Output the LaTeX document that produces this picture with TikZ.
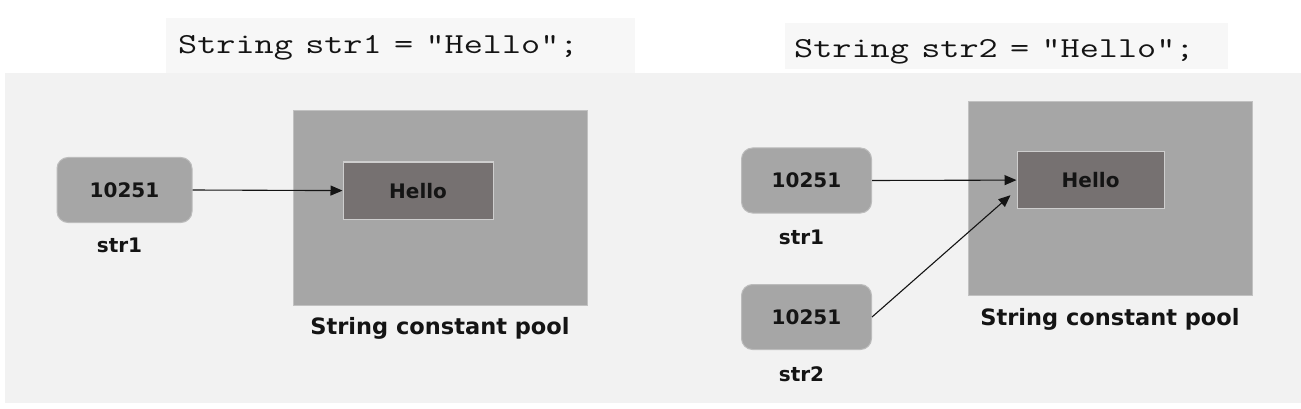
\documentclass[tikz,border=0pt]{standalone}
\usepackage{fontspec}
\setmainfont{DejaVu Sans}
\usepackage{graphicx}
\usepackage{tikz}
\usetikzlibrary{calc,arrows.meta,positioning}
\definecolor{bggray}{HTML}{F2F2F2}
\definecolor{codegray}{HTML}{F7F7F7}
\definecolor{boxgray}{HTML}{A6A6A6}
\definecolor{hellogray}{HTML}{767171}
\definecolor{inkgray}{HTML}{141414}
\newcommand{\codeline}[1]{\scalebox{1.28}[1]{#1}}
\tikzset{
  code/.style={fill=codegray, inner ysep=0pt, align=left, anchor=base west,
  font=\ttfamily\fontsize{29}{32}\selectfont, text=inkgray},
  refbox/.style={draw=boxgray!75!white, line width=1pt, fill=boxgray, 
  rounded corners=11pt, minimum width=130pt, minimum height=65pt, inner sep=0pt,
  font=\bfseries\fontsize{20}{24}\selectfont, text=inkgray},
  pool/.style={draw=boxgray!70!white, line width=1pt, fill=boxgray, 
  minimum height=194pt, inner sep=0pt},
  hellobox/.style={draw=boxgray!55!white, line width=1.2pt, fill=hellogray,
  minimum width=150pt, minimum height=57pt, inner sep=0pt, anchor=north west,
  font=\bfseries\fontsize{20}{24}\selectfont, text=inkgray},
  varname/.style={inner sep=0pt, xshift=-5pt, 
  font=\bfseries\fontsize{20}{24}\selectfont, text=inkgray},
  poolname/.style={inner sep=0pt, font=\bfseries\fontsize{22.5}{26}\selectfont,
  text=inkgray},
  ptr/.style={-{Triangle[length=12pt,width=10pt]}, line width=1.1pt, draw=inkgray}
}
\begin{document}
\begin{tikzpicture}[x=1pt,y=-1pt]
\useasboundingbox[fill=white] (0,0) rectangle (1301,409);
\fill[bggray] (5,73) rectangle (1301,403);

% first statement
\node[code, text height=36pt, text depth=19pt, inner xsep=12pt, 
  text width=445pt] (c1) at (166,54) {\codeline{String str1 = "Hello";}};
\node[refbox, minimum width=135pt] (r1) at (124.5,190) {10251};
\node[varname, below=15pt of r1] (n1) {str1};
\node[pool, minimum width=294pt] (p1) at (440,208) {};
\node[hellobox, below right=51pt and 50pt of p1.north west] (h1) {Hello};
\node[poolname, below=12pt of p1] (l1) {String constant pool};
\draw[ptr] (r1.east) -- (h1.west);

% second statement
\node[code, text height=34.5pt, text depth=11.5pt, inner xsep=9pt, 
  text width=425pt] (c2) at (785,57.5) {\codeline{String str2 = "Hello";}};
\node[refbox] (r2) at (806.5,180.5) {10251};
\node[varname, below=16pt of r2] (n2) {str1};
\node[refbox] (r3) at (806.5,317) {10251};
\node[varname, below=16pt of r3] (n3) {str2};
\node[pool, minimum width=284pt] (p2) at (1110,198.5) {};
\node[hellobox, minimum width=147pt, below right=50pt and 49pt of p2.north west] (h2) {Hello};
\node[poolname, below=12pt of p2] (l2) {String constant pool};
\draw[ptr] (r2.east) -- (h2.west);
\draw[ptr] (r3.east) -- ($(h2.south west)+(-6,-14)$);
\end{tikzpicture}
\end{document}
